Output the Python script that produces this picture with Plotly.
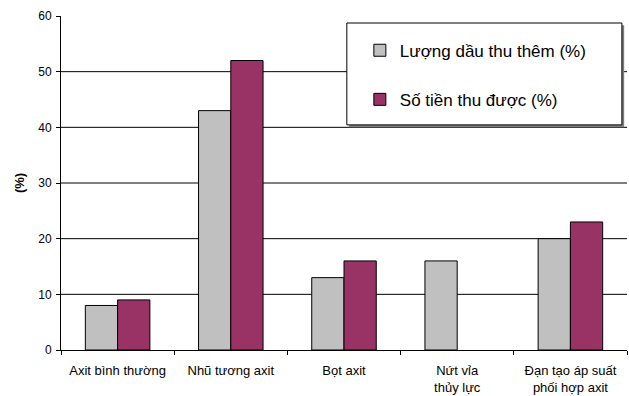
import plotly.graph_objects as go

# Enhanced-recovery methods compared on extra oil recovered and revenue gained
categories = [
    "Axit bình thường",
    "Nhũ tương axit",
    "Bọt axit",
    "Nứt vỉa<br>thủy lực",
    "Đạn tạo áp suất<br>phối hợp axit",
]
extra_oil = [8, 43, 13, 16, 20]
revenue = [9, 52, 16, None, 23]

series_names = ["Lượng dầu thu thêm (%)", "Số tiền thu được (%)"]
y_ticks = [0, 10, 20, 30, 40, 50, 60]

FONT = "Liberation Sans, Arial, sans-serif"

fig = go.Figure()
fig.add_trace(go.Bar(
    x=categories, y=extra_oil, name=series_names[0], legendgroup="a",
    marker=dict(color="#C0C0C0", line=dict(color="#000000", width=1)),
))
fig.add_trace(go.Bar(
    x=categories, y=revenue, name=series_names[1], legendgroup="b",
    marker=dict(color="#993366", line=dict(color="#000000", width=1)),
))

# horizontal gridlines at the inner ticks (none along the top edge)
for v in y_ticks[1:-1]:
    fig.add_shape(type="line", xref="paper", yref="y", x0=0, x1=1, y0=v, y1=v,
                  line=dict(color="#000000", width=1), layer="below")

# legend frame with a drop shadow
box = dict(x0=0.505, x1=0.991, y0=0.674, y1=0.979)
fig.add_shape(type="rect", xref="paper", yref="paper",
              x0=box["x0"] + 0.004, x1=box["x1"] + 0.004,
              y0=box["y0"] - 0.007, y1=box["y1"] - 0.007,
              fillcolor="#808080", line=dict(width=0), layer="above")
fig.add_shape(type="rect", xref="paper", yref="paper", **box,
              fillcolor="#FFFFFF", line=dict(color="#000000", width=1), layer="above")

fig.update_layout(
    width=629, height=396,
    margin=dict(l=61, r=2, t=16, b=46),
    paper_bgcolor="white", plot_bgcolor="white",
    font=dict(family=FONT, size=13, color="#000000"),
    barmode="group", bargap=0.43, bargroupgap=0,
    showlegend=True,
    legend=dict(
        x=0.528, y=0.95, xanchor="left", yanchor="top",
        bgcolor="rgba(0,0,0,0)", borderwidth=0,
        font=dict(family=FONT, size=17, color="#000000"),
        traceorder="grouped", tracegroupgap=24,
    ),
    xaxis=dict(
        showline=True, linecolor="#000000", linewidth=1,
        ticks="outside", tickson="boundaries", ticklen=4, tickcolor="#000000",
        showgrid=False, tickfont=dict(size=13), ticklabelstandoff=8,
    ),
    yaxis=dict(
        range=[0, 60], tickvals=y_ticks, ticktext=[str(v) for v in y_ticks],
        showline=True, linecolor="#000000", linewidth=1,
        ticks="outside", ticklen=4, tickcolor="#000000",
        showgrid=False, zeroline=False,
        tickfont=dict(size=12), ticklabelstandoff=2,
        title=dict(text="<b>(%)</b>", font=dict(size=13), standoff=10),
    ),
)

fig.write_html("out.html")
